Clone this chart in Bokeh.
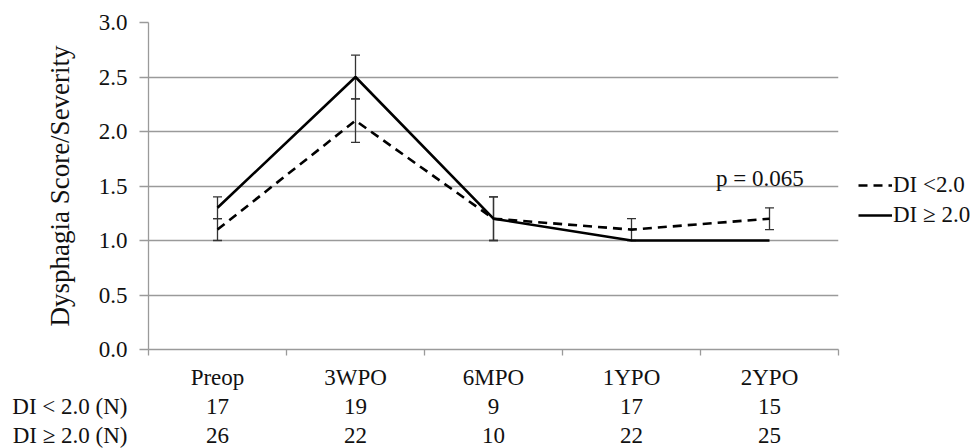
from bokeh.plotting import figure
from bokeh.layouts import column
from bokeh.models import (ColumnDataSource, FixedTicker, PrintfTickFormatter, Whisker,
                          TeeHead, Label, Legend, LegendItem, Range1d)
from bokeh.core.properties import value
from bokeh.embed import file_html
from bokeh.resources import INLINE

# ---- data ----
categories = ["Preop", "3WPO", "6MPO", "1YPO", "2YPO"]
di_low = [1.1, 2.1, 1.2, 1.1, 1.2]          # DI < 2.0 (dashed)
di_low_err = [0.1, 0.2, 0.2, 0.1, 0.1]
di_high = [1.3, 2.5, 1.2, 1.0, 1.0]         # DI >= 2.0 (solid)
di_high_err = [0.1, 0.2, 0.2, 0.0, 0.0]
n_low = [17, 19, 9, 17, 15]
n_high = [26, 22, 10, 22, 25]
row_labels = ["DI < 2.0 (N)", "DI \u2265 2.0 (N)"]
legend_labels = ["DI <2.0", "DI \u2265 2.0"]
y_ticks = [0.0, 0.5, 1.0, 1.5, 2.0, 2.5, 3.0]
p_text = "p = 0.065"

FONT = "Liberation Serif"
FS = "23px"
GRID = "#9a9a9a"
TXT = "#111111"

LEFT, FRAME_W, RIGHT = 148, 690, 130
TOP, FRAME_H, BOT = 22, 327, 12
TABLE_H = 448 - (TOP + FRAME_H + BOT)

ncat = len(categories)
xs = [i + 0.5 for i in range(ncat)]
bounds = list(range(ncat + 1))

p = figure(frame_width=FRAME_W, frame_height=FRAME_H, min_border_left=LEFT,
           min_border_right=RIGHT, min_border_top=TOP, min_border_bottom=BOT,
           x_range=(0, ncat), y_range=(0, 3), output_backend="svg", toolbar_location=None,
           background_fill_color="white", border_fill_color="white")
p.outline_line_color = None

# axes
p.xaxis.ticker = FixedTicker(ticks=bounds)
p.xaxis.major_label_overrides = {b: "" for b in bounds}
p.xaxis.major_label_text_font_size = "0px"
p.xaxis.major_label_standoff = 0
p.xaxis.major_tick_out = 6
p.xaxis.major_tick_in = 0
p.xaxis.minor_tick_line_color = None
p.xaxis.axis_line_color = GRID
p.xaxis.major_tick_line_color = GRID
p.xaxis.axis_line_width = 1.3
p.xaxis.major_tick_line_width = 1.3

p.yaxis.ticker = FixedTicker(ticks=y_ticks)
p.yaxis.formatter = PrintfTickFormatter(format="%.1f")
p.yaxis.major_tick_out = 9
p.yaxis.major_tick_in = 0
p.yaxis.minor_tick_line_color = None
p.yaxis.axis_line_color = GRID
p.yaxis.major_tick_line_color = GRID
p.yaxis.axis_line_width = 1.3
p.yaxis.major_tick_line_width = 1.3
p.yaxis.major_label_text_font = FONT
p.yaxis.major_label_text_font_size = FS
p.yaxis.major_label_text_color = TXT
p.yaxis.major_label_standoff = 12
p.yaxis.axis_label = "Dysphagia Score/Severity"
p.yaxis.axis_label_text_font = FONT
p.yaxis.axis_label_text_font_size = "27px"
p.yaxis.axis_label_text_font_style = "normal"
p.yaxis.axis_label_text_color = TXT
p.yaxis.axis_label_standoff = 21

p.xgrid.grid_line_color = None
p.ygrid.ticker = FixedTicker(ticks=y_ticks)
p.ygrid.grid_line_color = GRID
p.ygrid.grid_line_width = 1.3

# error bars
low_src = ColumnDataSource(dict(x=xs, lo=[v - e for v, e in zip(di_low, di_low_err)],
                                hi=[v + e for v, e in zip(di_low, di_low_err)]))
hi_x = [x for x, e in zip(xs, di_high_err) if e > 0]
hi_v = [(v, e) for v, e in zip(di_high, di_high_err) if e > 0]
high_src = ColumnDataSource(dict(x=hi_x, lo=[v - e for v, e in hi_v], hi=[v + e for v, e in hi_v]))
for src in (low_src, high_src):
    w = Whisker(source=src, base="x", lower="lo", upper="hi", dimension="height",
                line_color="#333333", line_width=1.3,
                upper_head=TeeHead(size=9, line_color="#333333", line_width=1.3),
                lower_head=TeeHead(size=9, line_color="#333333", line_width=1.3))
    p.add_layout(w)

# lines
r_low = p.line(xs, di_low, line_color="black", line_width=2.6, line_dash="9 6")
r_high = p.line(xs, di_high, line_color="black", line_width=2.6)

# legend
legend = Legend(items=[LegendItem(label=legend_labels[0], renderers=[r_low]),
                       LegendItem(label=legend_labels[1], renderers=[r_high])],
                location=(20, 119), orientation="vertical",
                label_text_font=FONT, label_text_font_size=FS, label_text_color=TXT,
                glyph_width=34, glyph_height=30, label_height=30, label_standoff=1,
                spacing=0, padding=0, margin=0, border_line_color=None,
                background_fill_alpha=0)
p.add_layout(legend, "right")

# p-value annotation
p.add_layout(Label(x=4.43, y=1.57, text=p_text, text_align="center",
                   text_baseline="alphabetic", text_font=FONT, text_font_size=FS,
                   text_color=TXT))

# ---- table below the axis (separate figure sharing the x scale) ----
row_gap = 29.0
first_row = 16.0
t = figure(frame_width=FRAME_W, frame_height=TABLE_H, min_border_left=LEFT,
           min_border_right=RIGHT, min_border_top=0, min_border_bottom=0,
           x_range=Range1d(0, ncat),
           y_range=Range1d((TABLE_H - first_row) / row_gap, -first_row / row_gap),
           x_axis_location=None, output_backend="svg",
           toolbar_location=None, background_fill_color="white", border_fill_color="white")
t.outline_line_color = None
t.grid.grid_line_color = None
t.yaxis.ticker = FixedTicker(ticks=[1, 2])
t.yaxis.major_label_overrides = {1: row_labels[0], 2: row_labels[1]}
t.yaxis.axis_line_color = None
t.yaxis.major_tick_line_color = None
t.yaxis.minor_tick_line_color = None
t.yaxis.major_tick_out = 0
t.yaxis.major_tick_in = 0
t.yaxis.major_label_standoff = 21
t.yaxis.major_label_text_font = FONT
t.yaxis.major_label_text_font_size = FS
t.yaxis.major_label_text_color = TXT

tx, ty, tt = [], [], []
for x, c, a, b in zip(xs, categories, n_low, n_high):
    for row, txt in enumerate((c, str(a), str(b))):
        tx.append(x)
        ty.append(row)
        tt.append(txt)
t.text(x=tx, y=ty, text=tt, text_align="center", text_baseline="middle",
       text_font=value(FONT), text_font_size=FS, text_color=TXT)

layout = column(p, t, spacing=0)
open("out.html", "w").write(file_html(layout, INLINE))
